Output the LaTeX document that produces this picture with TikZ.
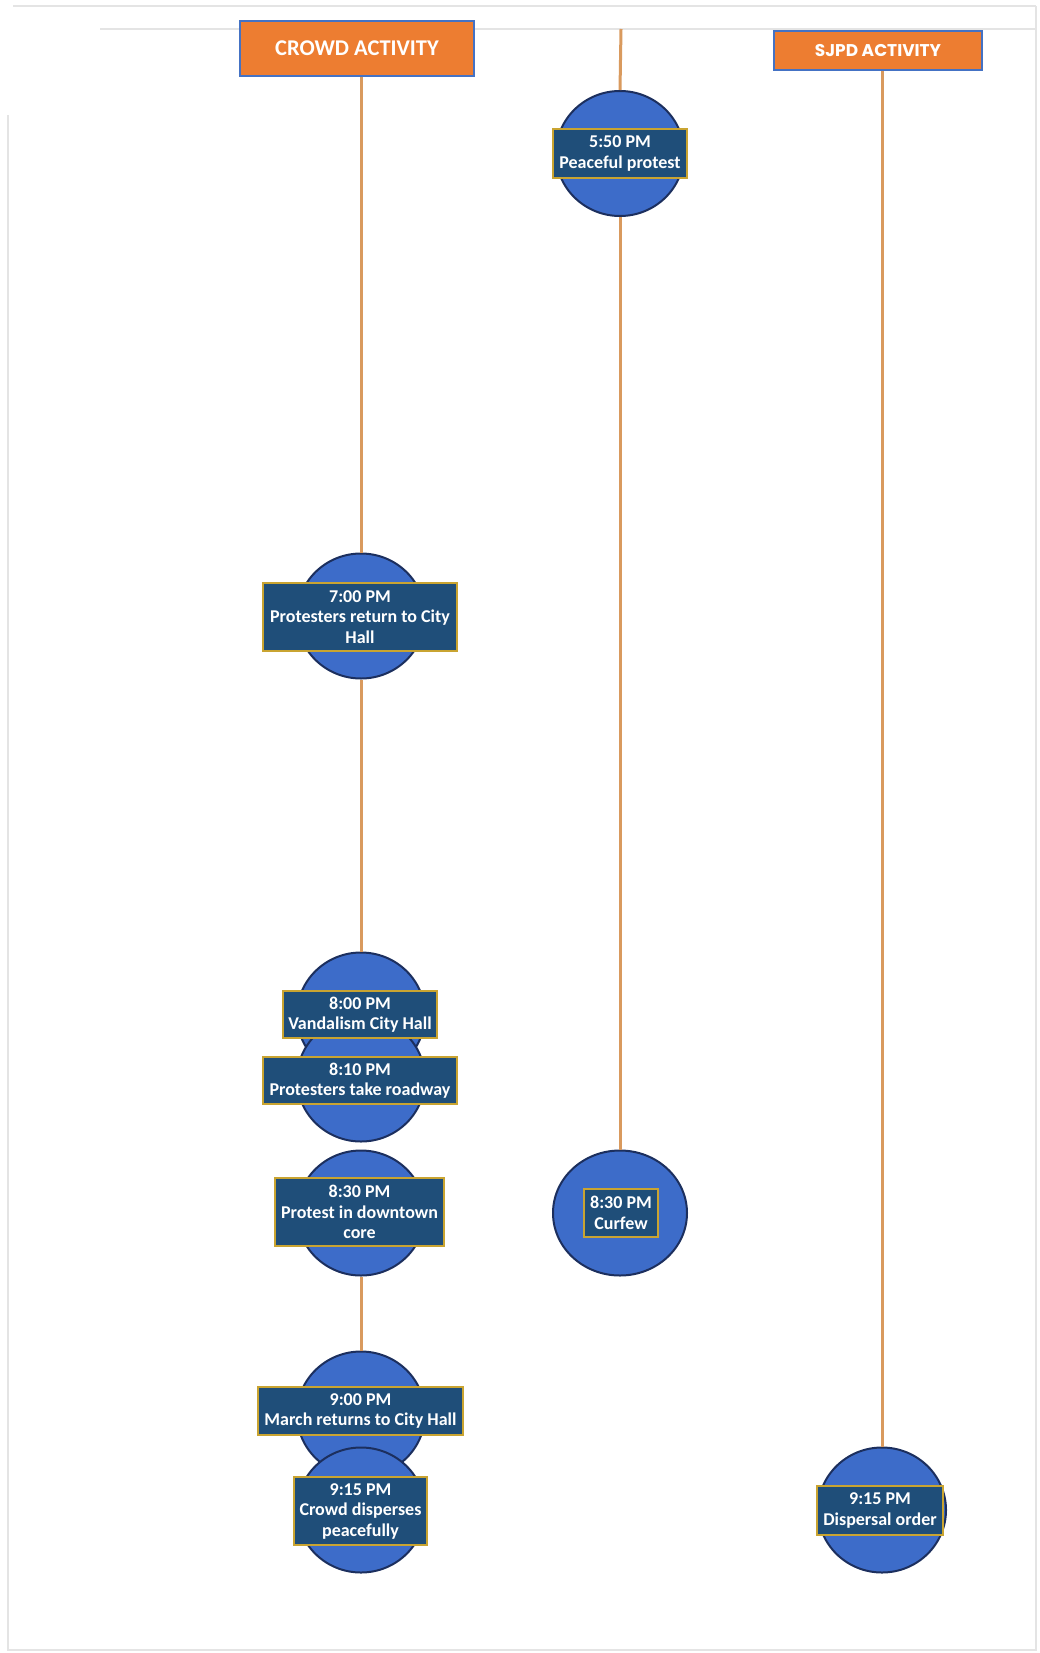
\documentclass[tikz,border=0pt]{standalone}
\usepackage{fontspec}
\setmainfont{Carlito}
\newfontfamily\hdrfont{Poppins}
\usetikzlibrary{shapes.geometric}
\definecolor{circfill}{HTML}{3D6CC9}
\definecolor{circline}{HTML}{1C2F5E}
\definecolor{boxfill}{HTML}{1F4E79}
\definecolor{boxline}{HTML}{C9A431}
\definecolor{hdrfill}{HTML}{ED7D31}
\definecolor{hdrline}{HTML}{4472C4}
\definecolor{conn}{HTML}{D99A5E}
\definecolor{frame}{HTML}{E4E4E4}
\tikzset{
  evt/.style={ellipse, draw=circline, line width=2pt, fill=circfill,
    minimum width=128pt, minimum height=125pt, inner sep=0pt},
  lbl/.style={rectangle, draw=boxline, line width=1.3pt, fill=boxfill,
    text=white, font=\bfseries\fontsize{18}{20.5}\selectfont, align=center,
    inner xsep=1pt, inner ysep=2pt},
  hdr/.style={rectangle, draw=hdrline, line width=2pt, fill=hdrfill,
    text=white, inner sep=0pt},
  link/.style={draw=conn, line width=3pt},
  framel/.style={draw=frame, line width=1.2pt}
}
\begin{document}
\begin{tikzpicture}[x=1pt,y=-1pt]
\useasboundingbox (0,0) rectangle (1039,1653);
% faint page frame
\draw[framel] (13,6) -- (1036,6);
\draw[framel] (100,29) -- (1036,29);
\draw[framel] (8,115) -- (8,1650) -- (1036,1650) -- (1036,6);

% headers
\node[hdr, minimum width=234pt, minimum height=55pt,
  font=\bfseries\fontsize{22.5}{26}\selectfont] (hdrA) at (357,48.5) {CROWD ACTIVITY};
\node[hdr, minimum width=208pt, minimum height=39pt,
  font=\hdrfont\bfseries\fontsize{17}{20}\selectfont] (hdrB) at (878,50.5) {SJPD ACTIVITY};
\coordinate (midtop) at (621,29);

% circles
\node[evt] (c550) at (620,153.5) {};
\node[evt] (c700) at (361,616) {};
\node[evt] (c800) at (361,1015) {};
\node[evt] (c810) at (361,1079) {};
\node[evt] (c830) at (361,1213) {};
\node[evt, minimum width=134pt] (ccur) at (620,1213) {};
\node[evt] (c900) at (361,1414) {};
\node[evt] (c915) at (361,1510) {};
\node[evt] (cdis) at (882,1510) {};

% connectors
\draw[link] (midtop) -- (c550.north);
\draw[link] (c550.south) -- (ccur.north);
\draw[link] (c700.north |- hdrA.south) -- (c700.north);
\draw[link] (c700.south) -- (c800.north);
\draw[link] (c830.south) -- (c900.north);
\draw[link] (cdis.north |- hdrB.south) -- (cdis.north);

% labels
\node[lbl, minimum width=134pt, minimum height=49pt] (l550) at (620,153.5) {5:50 PM\\Peaceful protest};
\node[lbl, minimum width=194pt, minimum height=68pt] (l700) at (360,617) {7:00 PM\\Protesters return to City\\Hall};
\node[lbl, minimum width=154pt, minimum height=47pt] (l800) at (360,1014.5) {8:00 PM\\Vandalism City Hall};
\node[lbl, minimum width=194pt, minimum height=47pt] (l810) at (360,1080.5) {8:10 PM\\Protesters take roadway};
\node[lbl, minimum width=169pt, minimum height=68pt] (l830) at (359.5,1212) {8:30 PM\\Protest in downtown\\core};
\node[lbl, minimum width=74pt, minimum height=48pt] (lcur) at (621,1213) {8:30 PM\\Curfew};
\node[lbl, minimum width=205pt, minimum height=48pt] (l900) at (360.5,1411) {9:00 PM\\March returns to City Hall};
\node[lbl, minimum width=133pt, minimum height=68pt] (l915) at (360.5,1511) {9:15 PM\\Crowd disperses\\peacefully};
\node[lbl, minimum width=126pt, minimum height=49pt] (ldis) at (880,1510.5) {9:15 PM\\Dispersal order};
\end{tikzpicture}
\end{document}
